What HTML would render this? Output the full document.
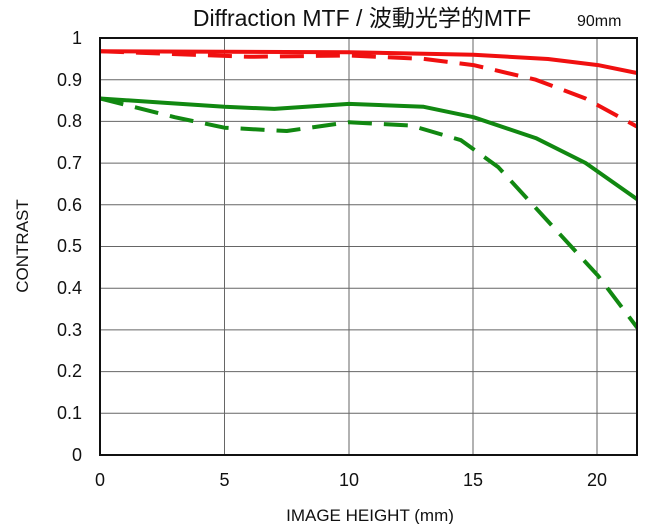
<!DOCTYPE html>
<html><head><meta charset="utf-8"><style>
html,body{margin:0;padding:0;background:#fff;}
svg{display:block;font-family:"Liberation Sans","Noto Sans CJK JP",sans-serif;}
</style></head><body>
<svg width="650" height="524" viewBox="0 0 650 524">
<defs><clipPath id="c"><rect x="100" y="38" width="537" height="417"/></clipPath></defs>
<text x="362" y="26" font-size="23" text-anchor="middle" fill="#111">Diffraction MTF / 波動光学的MTF</text>
<text x="577" y="26" font-size="16" fill="#111">90mm</text>
<g stroke="#666" stroke-width="1">
<line x1="224.5" y1="38" x2="224.5" y2="455"/><line x1="349" y1="38" x2="349" y2="455"/>
<line x1="473" y1="38" x2="473" y2="455"/><line x1="597" y1="38" x2="597" y2="455"/>
<line x1="100" y1="79.7" x2="637" y2="79.7"/><line x1="100" y1="121.4" x2="637" y2="121.4"/>
<line x1="100" y1="163.1" x2="637" y2="163.1"/><line x1="100" y1="204.8" x2="637" y2="204.8"/>
<line x1="100" y1="246.5" x2="637" y2="246.5"/><line x1="100" y1="288.2" x2="637" y2="288.2"/>
<line x1="100" y1="329.9" x2="637" y2="329.9"/><line x1="100" y1="371.6" x2="637" y2="371.6"/>
<line x1="100" y1="413.3" x2="637" y2="413.3"/>
</g>
<g clip-path="url(#c)" fill="none" stroke-width="4" stroke-linecap="butt" stroke-linejoin="round">
<polyline stroke="#f01010" points="100,51.3 349,52.2 473.5,54.7 548,59 598,65.1 639,73.4"/>
<polyline stroke="#f01010" stroke-dasharray="24,12" points="100,51.3 249,56.8 349,55.5 423.7,58.9 473.5,65.1 535.8,79.7 585.6,98.5 639,127.7"/>
<polyline stroke="#118811" points="100,98.5 162,102.6 224.5,106.8 274.3,108.9 349,103.9 423.7,106.8 473.5,117.2 535.8,138.1 585.6,163 639,200.6"/>
<polyline stroke="#118811" stroke-dasharray="24,12" points="100,98.5 174.7,117.2 224.5,127.7 286.8,131 349,122.2 411.3,125.6 461,140.2 498.4,167.3 548.2,221.5 598,275.7 639,330"/>
</g>
<rect x="100" y="38" width="537" height="417" fill="none" stroke="#111" stroke-width="2"/>
<g font-size="18" fill="#111" text-anchor="end">
<text x="82" y="44">1</text><text x="82" y="86">0.9</text><text x="82" y="127">0.8</text>
<text x="82" y="169">0.7</text><text x="82" y="211">0.6</text><text x="82" y="252">0.5</text>
<text x="82" y="294">0.4</text><text x="82" y="336">0.3</text><text x="82" y="377">0.2</text>
<text x="82" y="419">0.1</text><text x="82" y="461">0</text>
</g>
<g font-size="18" fill="#111" text-anchor="middle">
<text x="100" y="486">0</text><text x="224.5" y="486">5</text><text x="349" y="486">10</text>
<text x="473" y="486">15</text><text x="597" y="486">20</text>
</g>
<text x="370" y="521" font-size="17" text-anchor="middle" fill="#111">IMAGE HEIGHT (mm)</text>
<text transform="translate(28,246) rotate(-90)" font-size="17" text-anchor="middle" fill="#111">CONTRAST</text>
</svg>
</body></html>
